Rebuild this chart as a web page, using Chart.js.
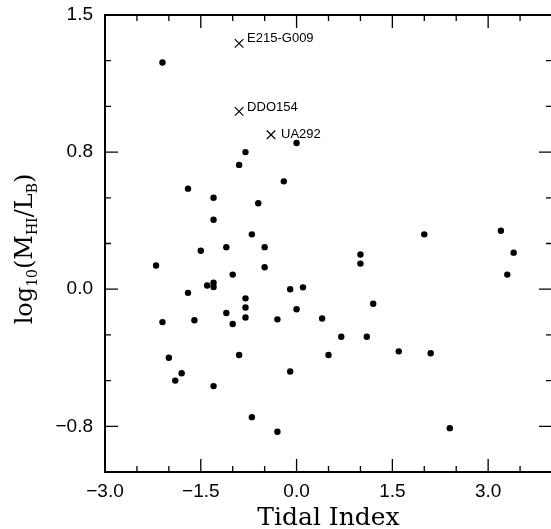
<!DOCTYPE html>
<html>
<head>
<meta charset="utf-8">
<script src="https://cdn.jsdelivr.net/npm/chart.js@4.4.0/dist/chart.umd.min.js"></script>
<style>
  html, body { margin: 0; padding: 0; overflow: hidden; background: #fff; }
  canvas { display: block; }
</style>
</head>
<body>
<canvas id="tidalChart" width="553" height="529"></canvas>
<script>
// galaxies plotted as dots
const tidalIndex = [
  -2.1, -0.8, -0.9, 0.0, -0.2, -1.7, -1.3, -0.6, -1.3, -0.7,
  2.0, 3.2, -1.5, -1.1, -0.5, 1.0, 1.0, 3.4, -2.2, -0.5,
  -1.0, 3.3, -1.4, -1.3, -1.3, -0.1, 0.1, -1.7, -0.8, -0.8,
  1.2, -1.1, 0.0, -2.1, -1.6, -0.8, -1.0, -0.3, 0.4, 0.7,
  1.1, -2.0, -0.9, 0.5, 1.6, 2.1, -1.8, -1.9, -0.1, -1.3,
  -0.7, -0.3, 2.4,
];
const logRatio = [
  1.24, 0.75, 0.68, 0.8, 0.59, 0.55, 0.5, 0.47, 0.38, 0.3,
  0.3, 0.32, 0.21, 0.23, 0.23, 0.19, 0.14, 0.2, 0.13, 0.12,
  0.08, 0.08, 0.02, 0.035, 0.012, 0.0, 0.01, -0.02, -0.05, -0.1,
  -0.08, -0.13, -0.11, -0.18, -0.17, -0.155, -0.19, -0.165, -0.16, -0.26,
  -0.26, -0.375, -0.36, -0.36, -0.34, -0.35, -0.46, -0.5, -0.45, -0.53,
  -0.7, -0.78, -0.76,
];

// labelled galaxies plotted as crosses
const namedGalaxies = ["E215-G009", "DDO154", "UA292"];
const namedTidalIndex = [-0.9, -0.9, -0.4];
const namedLogRatio = [1.345, 0.973, 0.845];

const xTickValues = [-3.0, -1.5, 0.0, 1.5, 3.0];
const xTickLabels = ["\u22123.0", "\u22121.5", "0.0", "1.5", "3.0"];
const yTickValues = [-0.75, 0.0, 0.75, 1.5];
const yTickLabels = ["\u22120.8", "0.0", "0.8", "1.5"];

const xMinorStep = 0.5;
const yMinorStep = 0.25;
const labelOffsets = [[8, -1.6], [8, -0.3], [10, 3.4]];

function isMajor(v, majors) {
  return majors.some((t) => Math.abs(t - v) < 1e-6);
}

// keep the box where it is, no extra room for edge labels
function noEdgePadding(scale) {
  scale.paddingTop = 0;
  scale.paddingBottom = 0;
  scale.paddingLeft = 0;
  scale.paddingRight = 0;
}

const frameTicks = {
  id: "frameTicks",
  afterDraw(chart) {
    const { ctx, chartArea: a, scales } = chart;
    const xs = scales.x;
    const ys = scales.y;
    ctx.save();
    ctx.strokeStyle = "#000";

    // top and right edges of the box (right one sits just past the window)
    ctx.lineWidth = 2;
    ctx.beginPath();
    ctx.moveTo(a.left - 1, a.top);
    ctx.lineTo(a.right, a.top);
    ctx.lineTo(a.right, a.bottom);
    ctx.stroke();

    // tick marks pointing into the plot, all four sides
    ctx.lineWidth = 1.3;
    ctx.beginPath();
    const nx = Math.round((xs.max - xs.min) / xMinorStep);
    for (let k = 1; k < nx; k++) {
      const v = xs.min + k * xMinorStep;
      const px = xs.getPixelForValue(v);
      const len = isMajor(v, xTickValues) ? 13 : 6;
      ctx.moveTo(px, a.bottom);
      ctx.lineTo(px, a.bottom - len);
      ctx.moveTo(px, a.top);
      ctx.lineTo(px, a.top + len);
    }
    const ny = Math.round((ys.max - ys.min) / yMinorStep);
    for (let k = 1; k < ny; k++) {
      const v = ys.min + k * yMinorStep;
      const py = ys.getPixelForValue(v);
      const len = isMajor(v, yTickValues) ? 13 : 6;
      ctx.moveTo(a.left, py);
      ctx.lineTo(a.left + len, py);
      ctx.moveTo(a.right, py);
      ctx.lineTo(a.right - len, py);
    }
    ctx.stroke();

    // names next to the crosses
    ctx.fillStyle = "#000";
    ctx.font = "13px 'Liberation Sans', Arial, sans-serif";
    ctx.textBaseline = "alphabetic";
    ctx.textAlign = "left";
    namedGalaxies.forEach((name, i) => {
      const px = xs.getPixelForValue(namedTidalIndex[i]);
      const py = ys.getPixelForValue(namedLogRatio[i]);
      ctx.fillText(name, px + labelOffsets[i][0], py + labelOffsets[i][1]);
    });

    // x axis title
    ctx.font = "25px 'DejaVu Serif', serif";
    ctx.textAlign = "center";
    ctx.fillText("Tidal Index", (a.left + a.right) / 2, 525);

    // y axis title with subscripts
    const parts = [
      ["log", false], ["10", true], ["(M", false], ["HI", true],
      ["/L", false], ["B", true], [")", false],
    ];
    const mainFont = "24px 'DejaVu Serif', serif";
    const subFont = "14px 'DejaVu Serif', serif";
    let total = 0;
    parts.forEach(([t, sub]) => {
      ctx.font = sub ? subFont : mainFont;
      total += ctx.measureText(t).width;
    });
    ctx.translate(32, 249);
    ctx.rotate(-Math.PI / 2);
    ctx.textAlign = "left";
    let cx = -total / 2;
    parts.forEach(([t, sub]) => {
      ctx.font = sub ? subFont : mainFont;
      ctx.fillText(t, cx, sub ? 4.5 : 0);
      cx += ctx.measureText(t).width;
    });
    ctx.restore();
  },
};

const tickFont = { family: "'Liberation Sans', Arial, sans-serif", size: 19 };

const ctx = document.getElementById("tidalChart").getContext("2d");
new Chart(ctx, {
  type: "scatter",
  data: {
    datasets: [
      {
        data: tidalIndex.map((x, i) => ({ x: x, y: logRatio[i] })),
        pointStyle: "circle",
        pointRadius: 3.2,
        pointBorderWidth: 0,
        backgroundColor: "#000",
        pointBackgroundColor: "#000",
      },
      {
        data: namedTidalIndex.map((x, i) => ({ x: x, y: namedLogRatio[i] })),
        pointStyle: "crossRot",
        pointRadius: 6,
        pointBorderWidth: 1.2,
        borderColor: "#000",
        pointBorderColor: "#000",
      },
    ],
  },
  options: {
    responsive: false,
    animation: false,
    events: [],
    layout: {
      autoPadding: false, // point sizes would otherwise eat into the right edge
      padding: { top: 15, right: 1, left: 0, bottom: 0 },
    },
    plugins: {
      legend: { display: false },
      tooltip: { enabled: false },
    },
    scales: {
      x: {
        type: "linear",
        min: -3,
        max: 4,
        afterBuildTicks: (scale) => {
          scale.ticks = xTickValues.map((v) => ({ value: v }));
        },
        afterFit: (scale) => {
          scale.height = 57;
          noEdgePadding(scale);
        },
        ticks: {
          callback: (v) => xTickLabels[xTickValues.indexOf(v)],
          font: tickFont,
          color: "#000",
          padding: 8,
          maxRotation: 0,
          autoSkip: false,
        },
        grid: { display: false, drawTicks: false },
        border: { display: true, color: "#000", width: 2 },
      },
      y: {
        type: "linear",
        min: -1,
        max: 1.5,
        afterBuildTicks: (scale) => {
          scale.ticks = yTickValues.map((v) => ({ value: v }));
        },
        afterFit: (scale) => {
          scale.width = 105;
          noEdgePadding(scale);
        },
        ticks: {
          callback: (v) => yTickLabels[yTickValues.indexOf(v)],
          font: tickFont,
          color: "#000",
          padding: 12,
          autoSkip: false,
        },
        grid: { display: false, drawTicks: false },
        border: { display: true, color: "#000", width: 2 },
      },
    },
  },
  plugins: [frameTicks],
});
</script>
</body>
</html>
